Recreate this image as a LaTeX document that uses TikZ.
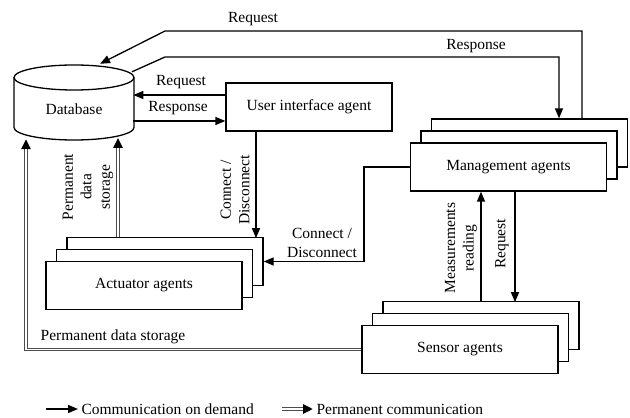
\documentclass[tikz,border=0pt]{standalone}
\usepackage{fontspec}
\setmainfont{Liberation Serif}
\usetikzlibrary{arrows.meta,shadows}

\tikzset{
  box/.style={draw, line width=1.3pt, fill=white, inner sep=0pt},
  agent/.style={box, minimum width=196pt, minimum height=48pt,
    double copy shadow={shadow xshift=10.5pt, shadow yshift=12pt}},
  arr/.style={line width=1.3pt, -{Triangle[length=10pt,width=8pt]}},
  perm/.style={draw=black!70, line width=3.6pt, -{Triangle[length=10pt,width=9pt,color=black]},
    postaction={draw=white, line width=1.2pt, -, shorten >=10pt}},
}

\begin{document}
\begin{tikzpicture}[x=1pt,y=1pt,font=\fontsize{15.5pt}{18.5pt}\selectfont]
\useasboundingbox (0,0) rectangle (630,418);

% database
\node[minimum width=120pt, minimum height=75pt, inner sep=0pt] (db) at (74,315.5) {};
\draw[line width=1.3pt] (74,340.5) ellipse [x radius=60pt, y radius=12.5pt];
\draw[line width=1.3pt] (14,340.5) -- (14,290.5)
  arc[start angle=180, end angle=360, x radius=60pt, y radius=12.5pt] -- (134,340.5);
\node (dbtext) at (74,309) {Database};

\node[box, minimum width=166pt, minimum height=48pt] (ui) at (309,311) {User interface agent};
\node[agent] (mgmt) at (508.5,251) {Management agents};
\node[agent] (act) at (144,132.5) {Actuator agents};
\node[agent] (sens) at (460,68.5) {Sensor agents};

\coordinate (actback) at ([shift={(21,24)}]act.north);
\coordinate (sensback) at ([shift={(21,24)}]sens.north);

% database <-> management
\draw[arr] ([shift={(73.5,24)}]mgmt.north) |- (165,387) -- ([shift={(26,1)}]db.north);
\node (lreq) at (253,399) {Request};
\draw[arr] ([shift={(58,-7)}]db.north) -- (165,361) -| ([shift={(50.5,24)}]mgmt.north);
\node (lresp) at (476,372) {Response};

% database <-> user interface
\draw[arr] ([yshift=12pt]ui.west) -- ++(-92,0);
\node (lureq) at (181,336) {Request};
\draw[arr] ([yshift=-14pt]ui.west) ++(-92,0) -- ([yshift=-14pt]ui.west);
\node (luresp) at (178,310) {Response};

% connect / disconnect
\draw[arr] ([xshift=-53pt]ui.south) -- ++(0,-106.5);
\node[rotate=90, align=center] (lcd1) at (235,228) {Connect /\\Disconnect};
\draw[arr] (mgmt.west) -- ++(-46,0) |- ([shift={(21,24)}]act.east);
\node[align=center] (lcd2) at (322,175) {Connect /\\Disconnect};

% permanent storage
\draw[perm] ([xshift=-47pt]actback) -- ++(0,99);
\node[rotate=90, align=center] (lperm1) at (88,231) {Permanent\\data\\storage};
\draw[perm] (sens.west) -| ([shift={(-48,1)}]db.south);
\node (lperm2) at (113,81) {Permanent data storage};

% management <-> sensors
\draw[arr] (sensback) -- (sensback |- mgmt.south);
\node[rotate=90, align=center] (lmeas) at (461,170) {Measurements\\reading};
\draw[arr] ([xshift=6.5pt]mgmt.south) -- ++(0,-110.5);
\node[rotate=90] (lsreq) at (502,174) {Request};

% legend
\node[right] (leg1) at (78,9) {Communication on demand};
\draw[arr] ([xshift=-32pt]leg1.west) -- (leg1.west);
\node[right] (leg2) at (313,9) {Permanent communication};
\draw[perm] ([xshift=-31pt]leg2.west) -- (leg2.west);

\end{tikzpicture}
\end{document}
